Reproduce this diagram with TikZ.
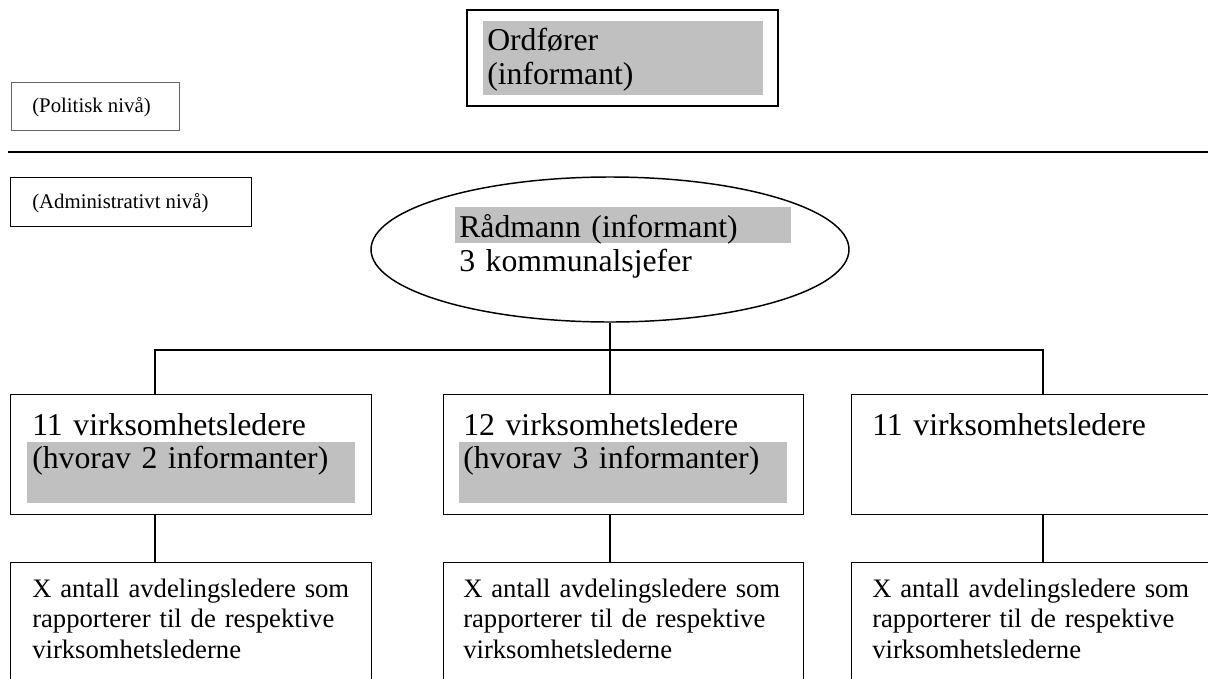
\documentclass[tikz,border=0pt]{standalone}
\usepackage{fontspec}
\setmainfont{Liberation Serif}
\usetikzlibrary{shapes.geometric}
\definecolor{hlgray}{HTML}{C0C0C0}
\begin{document}
\begin{tikzpicture}[x=0.75pt,y=-0.75pt,
  box/.style={draw, line width=1.1pt, inner sep=0pt, anchor=north west},
  conn/.style={line width=1.1pt},
  rule/.style={line width=1.6pt},
  bigtxt/.style={inner sep=0pt, anchor=base west, align=left, text width=300pt,
     font=\fontsize{23.8}{25}\selectfont},
  midtxt/.style={inner sep=0pt, anchor=base west, align=left, text width=300pt,
     font=\fontsize{20}{22.9}\selectfont},
  smalltxt/.style={inner sep=0pt, anchor=base west, font=\fontsize{15.6}{18}\selectfont}]
\useasboundingbox (0,0) rectangle (1208,679);
\clip (0,0) rectangle (1208,679);

% highlights
\fill[hlgray] (483,21) rectangle (763,95);
\fill[hlgray] (455,207) rectangle (791,243);
\fill[hlgray] (27,442) rectangle (355,503);
\fill[hlgray] (459,442) rectangle (787,503);

% boxes
\node[box, line width=1.6pt, minimum width=233.25pt, minimum height=72pt] (ord) at (466,9) {};
\node[box, draw=black!60, line width=0.8pt, minimum width=126pt, minimum height=36pt] (pol) at (11,82) {};
\node[box, minimum width=180.75pt, minimum height=36.75pt] (adm) at (10,177) {};
\node[draw, ellipse, line width=1.1pt, inner sep=0pt, minimum width=358.5pt, minimum height=108.75pt] (rad) at (610,249.5) {};
\node[box, minimum width=270.75pt, minimum height=90pt] (m1) at (10,394) {};
\node[box, minimum width=270pt, minimum height=90pt] (m2) at (443,394) {};
\node[box, minimum width=270.75pt, minimum height=90pt] (m3) at (851,394) {};
\node[box, minimum width=270.75pt, minimum height=97.5pt] (b1) at (10,562) {};
\node[box, minimum width=270pt, minimum height=97.5pt] (b2) at (443,562) {};
\node[box, minimum width=270.75pt, minimum height=97.5pt] (b3) at (851,562) {};

% level rule
\coordinate (hl) at (8,152);
\coordinate (hr) at (1208,152);
\draw[rule] (hl) -- (hr);

% connectors
\coordinate (jl) at (155,350);
\coordinate (jr) at (1043,350);
\draw[conn] (jl |- m1.north) -- (jl) -- (jr) -- (jr |- m3.north);
\draw[conn] (rad.south) -- (rad.south |- m2.north);
\draw[conn] (jl |- m1.south) -- (jl |- b1.north);
\draw[conn] (rad.south |- m2.south) -- (rad.south |- b2.north);
\draw[conn] (jr |- m3.south) -- (jr |- b3.north);

% texts
\node[bigtxt, font=\fontsize{23.8}{25.5}\selectfont] (tord) at (487,50) {Ordfører\\(informant)};
\node[smalltxt] (tpol) at (32,112) {(Politisk nivå)};
\node[smalltxt] (tadm) at (32,208) {(Administrativt nivå)};
\node[bigtxt, font=\fontsize{23.8}{25.5}\selectfont] (trad) at (459,237) {Rådmann (informant)\\3 kommunalsjefer};
\node[bigtxt, font=\fontsize{23.8}{24.75}\selectfont] (tm1) at (32,435) {11 virksomhetsledere\\(hvorav 2 informanter)};
\node[bigtxt, font=\fontsize{23.8}{24.75}\selectfont] (tm2) at (463,435) {12 virksomhetsledere\\(hvorav 3 informanter)};
\node[bigtxt] (tm3) at (872,435) {11 virksomhetsledere};
\node[midtxt] (tb1) at (32,597) {X antall avdelingsledere som\\rapporterer til de respektive\\virksomhetslederne};
\node[midtxt] (tb2) at (463,597) {X antall avdelingsledere som\\rapporterer til de respektive\\virksomhetslederne};
\node[midtxt] (tb3) at (872,597) {X antall avdelingsledere som\\rapporterer til de respektive\\virksomhetslederne};
\end{tikzpicture}
\end{document}
